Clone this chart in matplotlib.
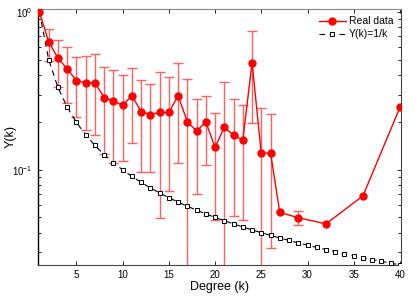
import numpy as np
import matplotlib
matplotlib.use("Agg")
import matplotlib.pyplot as plt

plt.rcParams['font.family'] = ['Liberation Sans', 'DejaVu Sans']
plt.rcParams['mathtext.fontset'] = 'custom'
plt.rcParams['mathtext.rm'] = 'Liberation Sans'
plt.rcParams['mathtext.it'] = 'Liberation Sans:italic'

# Real data
k_real = [1, 2, 3, 4, 5, 6, 7, 8, 9, 10, 11, 12, 13, 14, 15, 16, 17, 18, 19, 20,
          21, 22, 23, 24, 25, 26, 27, 29, 32, 36, 40]
y_real = [1.0, 0.646, 0.512, 0.436, 0.368, 0.356, 0.356, 0.287, 0.273, 0.256,
          0.295, 0.234, 0.224, 0.231, 0.231, 0.295, 0.202, 0.176, 0.201, 0.139,
          0.186, 0.166, 0.154, 0.478, 0.127, 0.128, 0.0537, 0.0498, 0.0455,
          0.0685, 0.249]
# error bar extents (None = no error bar)
y_upper = [None, 0.784, 0.665, 0.601, 0.522, 0.530, 0.545, 0.447, 0.430, 0.397,
           0.441, 0.370, 0.349, 0.416, 0.385, 0.478, 0.377, 0.281, 0.295, 0.228,
           0.360, 0.281, 0.259, 0.755, 0.246, 0.225, None, 0.0548, None, None, None]
y_lower = [None, 0.490, 0.336, 0.267, 0.216, 0.178, 0.166, 0.126, 0.110, 0.113,
           0.147, 0.0976, 0.0976, 0.0498, 0.0732, 0.110, 0.005, 0.0705, 0.108, 0.0481,
           0.005, 0.0509, 0.0478, 0.198, 0.005, 0.0318, None, 0.0445, None, None, None]

# Reference curve Y(k)=1/k
k_ref = list(range(1, 41))
y_ref = [1.0 / k for k in k_ref]

fig = plt.figure(figsize=(4.15, 2.99), dpi=100)
ax = fig.add_axes([0.091, 0.114, 0.875, 0.856])

ebk, ebv, ebl, ebu = [], [], [], []
for kk, yy, lo, up in zip(k_real, y_real, y_lower, y_upper):
    if lo is not None:
        ebk.append(kk); ebv.append(yy); ebl.append(yy - lo); ebu.append(up - yy)
errc = '#ff6060'
ax.errorbar(ebk, ebv, yerr=[ebl, ebu], fmt='none', ecolor=errc, elinewidth=1.0,
            capsize=3.4, capthick=1.0, zorder=2)

ax.plot(k_ref, y_ref, linestyle=(0, (5, 4)), color='black', lw=0.8,
        marker='s', markersize=3.4, markerfacecolor='white',
        markeredgecolor='black', markeredgewidth=0.7, label='Y(k)=1/k', zorder=3)
ax.plot(k_real, y_real, '-', color='red', lw=1.0, marker='o', markersize=5,
        markerfacecolor='red', markeredgecolor='red', label='Real data', zorder=4)

ax.set_yscale('log')
ax.set_xlim(0.82, 40.1)
ax.set_ylim(0.025, 1.045)
ax.set_xticks([5, 10, 15, 20, 25, 30, 35, 40])
ax.tick_params(which='both', direction='in', top=True, right=True, labelsize=7,
               width=0.6)
ax.tick_params(which='major', length=3)
ax.tick_params(which='minor', length=2)
ax.set_xlabel('Degree (k)', fontsize=9, labelpad=1)
ax.set_ylabel('Y(k)', fontsize=9)
ax.yaxis.set_label_coords(-0.058, 0.5)

ax.spines['left'].set_color('black'); ax.spines['left'].set_linewidth(1.0)
ax.spines['bottom'].set_color('#444444')
ax.spines['top'].set_color('#888888')
ax.spines['right'].set_color('#444444')

h, l = ax.get_legend_handles_labels()
ax.legend([h[1], h[0]], [l[1], l[0]], loc='upper right', frameon=False,
          fontsize=7.5, handlelength=2.6, borderaxespad=0.3, labelspacing=0.3,
          handletextpad=0.3)

fig.savefig('out.png', dpi=100)
